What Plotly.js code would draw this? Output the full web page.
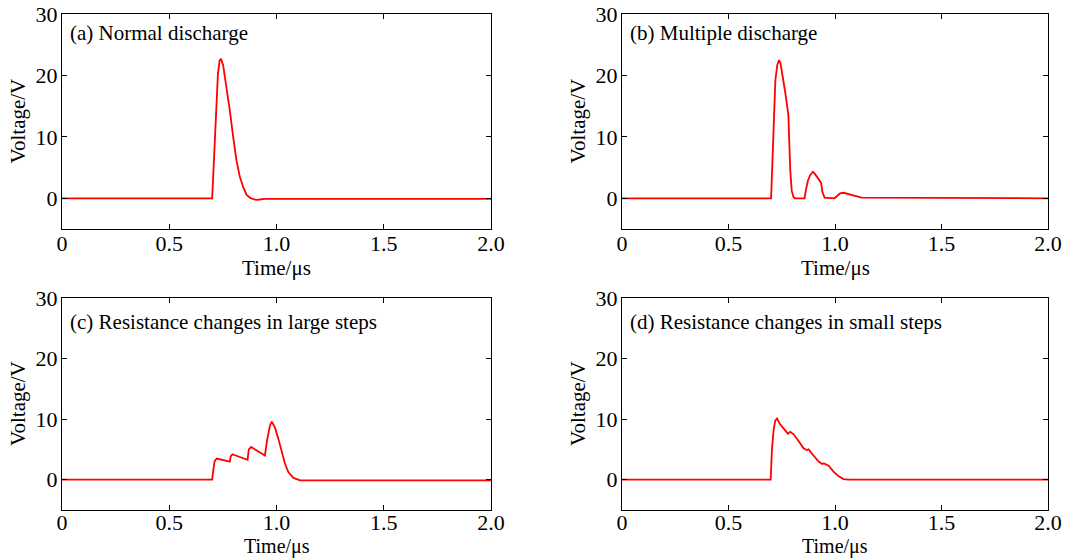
<!DOCTYPE html>
<html>
<head>
<meta charset="utf-8">
<script src="https://cdn.plot.ly/plotly-3.0.1.min.js"></script>
<style>html,body{margin:0;padding:0;background:#fff;}#chart{width:1077px;height:558px;}</style>
</head>
<body>
<div id="chart"></div>
<script>
// Panel (a) Normal discharge
const tA = [0, 0.700, 0.704, 0.712, 0.720, 0.727, 0.735, 0.741, 0.751, 0.767, 0.782, 0.798, 0.813, 0.829, 0.845, 0.860, 0.876, 0.892, 0.907, 0.923, 0.940, 2.0];
const vA = [0, 0, 2.9, 9.5, 16.0, 20.3, 22.4, 22.7, 21.7, 18.2, 14.4, 10.0, 6.2, 3.5, 1.8, 0.6, 0.1, -0.15, -0.25, -0.2, -0.1, -0.1];
// Panel (b) Multiple discharge
const tB = [0, 0.700, 0.707, 0.714, 0.720, 0.729, 0.737, 0.744, 0.751, 0.767, 0.781, 0.790, 0.797, 0.805, 0.812, 0.857, 0.863, 0.873, 0.884, 0.896, 0.905, 0.915, 0.935, 0.941, 0.951, 0.998, 1.009, 1.024, 1.040, 1.063, 1.095, 1.125, 2.0];
const vB = [0, 0, 6.7, 14.9, 19.2, 21.7, 22.5, 22.0, 20.6, 17.1, 13.6, 4.5, 1.2, 0.2, 0, 0, 1.3, 2.9, 3.8, 4.3, 4.0, 3.5, 2.5, 1.0, 0.1, 0, 0.4, 0.8, 0.9, 0.7, 0.45, 0.1, 0];
// Panel (c) Resistance changes in large steps
const tC = [0, 0.700, 0.705, 0.712, 0.722, 0.750, 0.782, 0.787, 0.795, 0.810, 0.837, 0.865, 0.871, 0.882, 0.900, 0.930, 0.946, 0.957, 0.970, 0.978, 0.993, 1.009, 1.024, 1.040, 1.055, 1.079, 1.110, 2.0];
const vC = [0, 0, 1.5, 3.1, 3.5, 3.3, 3.0, 3.9, 4.2, 4.0, 3.7, 3.3, 5.0, 5.4, 5.0, 4.3, 4.0, 6.7, 9.0, 9.6, 8.6, 6.7, 4.5, 2.6, 1.25, 0.3, -0.1, -0.1];
// Panel (d) Resistance changes in small steps
const tD = [0, 0.698, 0.704, 0.712, 0.720, 0.728, 0.743, 0.767, 0.779, 0.790, 0.806, 0.829, 0.852, 0.868, 0.876, 0.899, 0.923, 0.940, 0.948, 0.970, 0.993, 1.016, 1.040, 1.063, 2.0];
const vD = [0, 0, 5.0, 8.3, 9.8, 10.1, 9.1, 8.0, 7.6, 7.9, 7.5, 6.4, 5.2, 4.9, 5.0, 4.0, 3.0, 2.6, 2.7, 2.3, 1.35, 0.6, 0.1, 0, 0];

const panelLabels = ["(a) Normal discharge", "(b) Multiple discharge", "(c) Resistance changes in large steps", "(d) Resistance changes in small steps"];
const xTickVals = [0, 0.5, 1.0, 1.5, 2.0];
const xTickText = ["0", "0.5", "1.0", "1.5", "2.0"];
const yTickVals = [0, 10, 20, 30];
const xTitle = "Time/μs";
const yTitle = "Voltage/V";

const series = [[tA, vA], [tB, vB], [tC, vC], [tD, vD]];
const FONT = "Liberation Serif, Times New Roman, serif";

const traces = series.map((s, i) => ({
  x: s[0], y: s[1], type: "scatter", mode: "lines",
  line: {color: "#ff0000", width: 1.8},
  xaxis: i === 0 ? "x" : "x" + (i + 1),
  yaxis: i === 0 ? "y" : "y" + (i + 1),
  showlegend: false, hoverinfo: "skip"
}));

const xDomL = [62/1077, 491/1077], xDomR = [622/1077, 1048/1077];
const yDomT = [1 - 229/558, 1 - 14/558], yDomB = [1 - 510/558, 1 - 298/558];
const doms = [[xDomL, yDomT], [xDomR, yDomT], [xDomL, yDomB], [xDomR, yDomB]];
const xTitleY = [1 - 268/558, 1 - 268/558, 1 - 546/558, 1 - 546/558];
const yTitleX = [18/1077, 578/1077, 18/1077, 578/1077];

const layout = {
  width: 1077, height: 558,
  margin: {l: 0, r: 0, t: 0, b: 0},
  paper_bgcolor: "#fff", plot_bgcolor: "#fff",
  font: {family: FONT, size: 20, color: "#000"},
  annotations: []
};

doms.forEach((d, i) => {
  const sx = i === 0 ? "" : String(i + 1);
  layout["xaxis" + sx] = {
    domain: d[0], anchor: "y" + sx, range: [0, 2.0],
    tickvals: xTickVals, ticktext: xTickText,
    ticks: "inside", ticklen: 5, tickcolor: "#000", mirror: "ticks",
    showline: true, linecolor: "#000", linewidth: 1,
    showgrid: false, zeroline: false,
    ticklabelstandoff: i < 2 ? -5 : -7,
    tickfont: {family: FONT, size: 22, color: "#000"}
  };
  layout["yaxis" + sx] = {
    domain: d[1], anchor: "x" + sx, range: [-5, 30],
    tickvals: yTickVals,
    ticks: "inside", ticklen: 5, tickcolor: "#000", mirror: "ticks",
    showline: true, linecolor: "#000", linewidth: 1,
    showgrid: false, zeroline: false,
    ticklabelstandoff: -1,
    tickfont: {family: FONT, size: 22, color: "#000"}
  };
  layout.annotations.push({
    text: panelLabels[i], xref: "x" + sx + " domain", yref: "y" + sx + " domain",
    x: 0.015, y: i < 2 ? 0.91 : 0.885, xanchor: "left", yanchor: "middle", showarrow: false,
    font: {family: FONT, size: 21, color: "#000"}
  });
  layout.annotations.push({
    text: xTitle, xref: "x" + sx + " domain", yref: "paper",
    x: 0.5, y: xTitleY[i], xanchor: "center", yanchor: "middle", showarrow: false,
    font: {family: FONT, size: i < 2 ? 21 : 20, color: "#000"}
  });
  layout.annotations.push({
    text: yTitle, xref: "paper", yref: "y" + sx + " domain",
    x: yTitleX[i], y: 0.5, xanchor: "center", yanchor: "middle", textangle: -90, showarrow: false,
    font: {family: FONT, size: 21, color: "#000"}
  });
});

Plotly.newPlot("chart", traces, layout, {displayModeBar: false, staticPlot: true});
</script>
</body>
</html>
